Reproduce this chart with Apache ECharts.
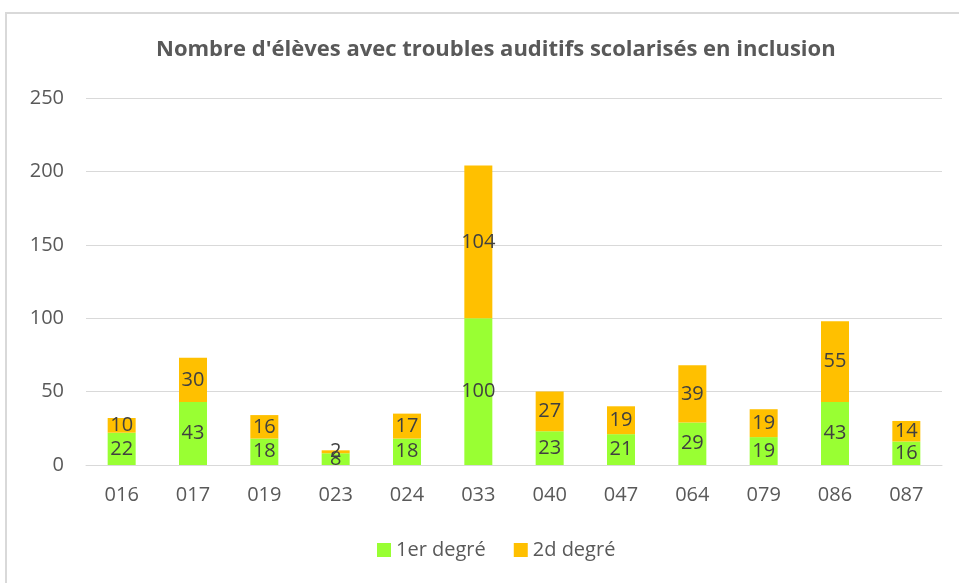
<!DOCTYPE html>
<html><head><meta charset="utf-8">
<script src="https://cdn.jsdelivr.net/npm/echarts@6/dist/echarts.min.js"></script>
<style>
html,body{margin:0;padding:0;background:#fff;}
#frame{position:absolute;left:5px;top:12px;width:960px;height:575px;border:2px solid #d9d9d9;box-sizing:border-box;}
#c{position:absolute;left:0;top:0;width:959px;height:583px;}
</style></head>
<body><div id="frame"></div><div id="c"></div>
<script>
const categories = ['016','017','019','023','024','033','040','047','064','079','086','087'];
const premierDegre = [22,43,18,8,18,100,23,21,29,19,43,16];
const secondDegre = [10,30,16,2,17,104,27,19,39,19,55,14];
const chart = echarts.init(document.getElementById('c'));
const lbl = {show:true, position:'inside', color:'#404040', fontSize:20, fontFamily:'Open Sans'};
chart.setOption({
  animation:false,
  title:{text:"Nombre d'élèves avec troubles auditifs scolarisés en inclusion", left:151, top:34,
    textStyle:{color:'#595959', fontSize:22, fontWeight:'bold', fontFamily:'Open Sans'}},
  grid:{left:86, right:17, top:98, bottom:118},
  legend:{bottom:18, left:372, itemWidth:14, itemHeight:14, itemGap:28, icon:'rect',
    textStyle:{color:'#595959', fontSize:20, fontFamily:'Open Sans'}},
  xAxis:{type:'category', data:categories, axisTick:{show:false},
    axisLine:{lineStyle:{color:'#d9d9d9', width:1}},
    axisLabel:{color:'#595959', fontSize:20, margin:20, fontFamily:'Open Sans'}},
  yAxis:{type:'value', min:0, max:250, interval:50,
    axisLine:{show:false}, axisTick:{show:false},
    splitLine:{lineStyle:{color:'#d9d9d9', width:1}},
    axisLabel:{color:'#595959', fontSize:20, margin:22, fontFamily:'Open Sans'}},
  series:[
    {name:'1er degré', type:'bar', stack:'t', data:premierDegre, barWidth:28, itemStyle:{color:'#99FF33'}, label:lbl},
    {name:'2d degré', type:'bar', stack:'t', data:secondDegre, barWidth:28, itemStyle:{color:'#FFC000'}, label:lbl}
  ]
});
</script></body></html>
